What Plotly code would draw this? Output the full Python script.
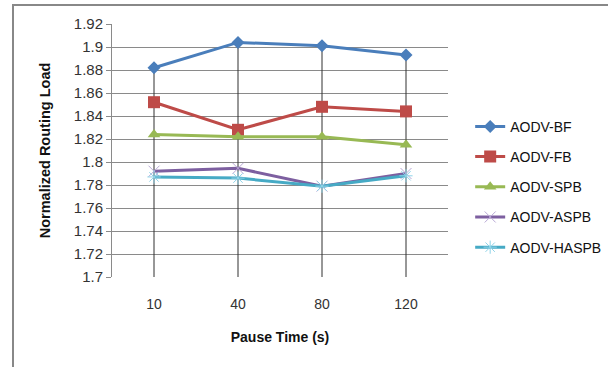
import plotly.graph_objects as go

categories = ["10", "40", "80", "120"]
series_names = ["AODV-BF", "AODV-FB", "AODV-SPB", "AODV-ASPB", "AODV-HASPB"]
bf = [1.882, 1.904, 1.901, 1.893]
fb = [1.852, 1.828, 1.848, 1.844]
spb = [1.824, 1.822, 1.822, 1.815]
aspb = [1.792, 1.7945, 1.779, 1.790]
haspb = [1.787, 1.786, 1.779, 1.788]
y_ticks = [1.7, 1.72, 1.74, 1.76, 1.78, 1.8, 1.82, 1.84, 1.86, 1.88, 1.9, 1.92]

all_series = [bf, fb, spb, aspb, haspb]
colors = ["#4A7EBB", "#BE4B48", "#98B954", "#7D5FA0", "#46AAC5"]
marker_colors = ["#4A7EBB", "#BE4B48", "#98B954", "#B9A9D6", "#8FD3E8"]
symbols = ["diamond", "square", "triangle-up", "x-thin-open", "asterisk-open"]
msizes = [10, 12, 11, 11, 11]

FONT = "Liberation Sans"
fig = go.Figure()

# drop lines from max value at each category to axis bottom
xs, ys = [], []
for i, c in enumerate(categories):
    top = max(s[i] for s in all_series)
    xs += [c, c, None]
    ys += [top, y_ticks[0], None]
fig.add_trace(go.Scatter(x=xs, y=ys, mode="lines", line=dict(color="#303030", width=1),
                         showlegend=False, hoverinfo="skip"))

for name, vals, col, mcol, sym, ms in zip(series_names, all_series, colors, marker_colors, symbols, msizes):
    if sym.endswith("open"):
        marker = dict(symbol=sym, size=ms, color=mcol, line=dict(color=mcol, width=1))
    else:
        marker = dict(symbol=sym, size=ms, color=col, line=dict(width=0))
    fig.add_trace(go.Scatter(x=categories, y=vals, mode="lines+markers", name=name,
                             legendgroup=name,
                             line=dict(color=col, width=3), marker=marker))

fig.update_layout(
    width=608, height=367,
    margin=dict(l=112, r=160, t=24, b=90, autoexpand=False),
    paper_bgcolor="white", plot_bgcolor="white",
    font=dict(family=FONT, size=13, color="#222222"),
    showlegend=True,
    legend=dict(x=1.066, y=0.657, xanchor="left", yanchor="top",
                font=dict(family=FONT, size=14, color="#111111"),
                tracegroupgap=9, traceorder="grouped", bgcolor="rgba(0,0,0,0)",
                itemwidth=30),
    xaxis=dict(type="category", range=[-0.5, 3.5], showgrid=False, showline=False,
               zeroline=False, ticks="", tickfont=dict(family=FONT, size=14, color="#333333"),
               ticklabelstandoff=17, automargin=False,
               title=dict(text="<b>Pause Time (s)</b>", font=dict(family=FONT, size=14, color="#111111"),
                          standoff=21)),
    yaxis=dict(range=[1.7, 1.92], tickvals=y_ticks, ticktext=[f"{v:g}" for v in y_ticks],
               showgrid=True, gridcolor="#8a8a8a", gridwidth=1,
               showline=True, linecolor="#8a8a8a", linewidth=1,
               ticks="outside", ticklen=5, tickcolor="#8a8a8a", automargin=False,
               zeroline=False, tickfont=dict(family=FONT, size=15, color="#333333"),
               title=dict(text="<b>Normalized Routing Load</b>", font=dict(family=FONT, size=14.5, color="#111111"),
                          standoff=19)),
)

# chart outer border
fig.add_shape(type="rect", xref="paper", yref="paper",
              x0=(13 - 112) / 336, x1=(620 - 112) / 336,
              y0=(277 - 380) / 253, y1=1 + (24 - 5) / 253,
              line=dict(color="#888888", width=2), fillcolor="rgba(0,0,0,0)", layer="below")

fig.write_html("out.html")
